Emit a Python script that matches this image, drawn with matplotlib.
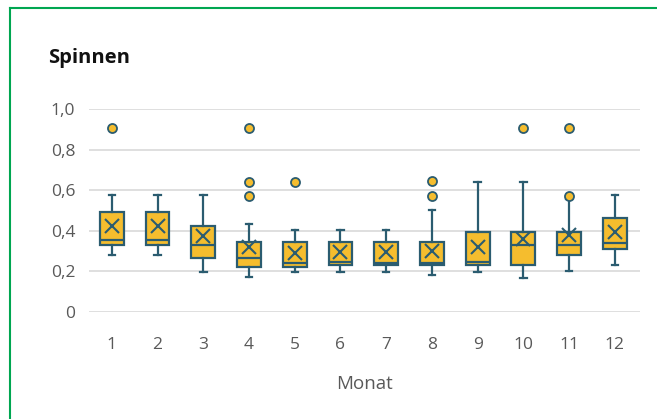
import matplotlib
matplotlib.use('Agg')
import matplotlib.pyplot as plt
from matplotlib.lines import Line2D

# Daten
monate = [1, 2, 3, 4, 5, 6, 7, 8, 9, 10, 11, 12]
whis_unten = [0.282, 0.282, 0.197, 0.171, 0.197, 0.197, 0.197, 0.184, 0.197, 0.167, 0.200, 0.231]
q1 = [0.330, 0.330, 0.264, 0.221, 0.221, 0.231, 0.231, 0.231, 0.231, 0.231, 0.280, 0.312]
median = [0.354, 0.354, 0.330, 0.264, 0.243, 0.246, 0.240, 0.243, 0.246, 0.330, 0.330, 0.338]
q3 = [0.492, 0.492, 0.426, 0.346, 0.346, 0.346, 0.346, 0.346, 0.395, 0.395, 0.395, 0.461]
whis_oben = [0.574, 0.574, 0.574, 0.435, 0.405, 0.405, 0.405, 0.500, 0.640, 0.640, 0.555, 0.574]
mittel = [0.423, 0.423, 0.374, 0.320, 0.292, 0.296, 0.296, 0.300, 0.320, 0.358, 0.379, 0.395]
ausreisser = [[0.904], [], [], [0.904, 0.640, 0.572], [0.640], [], [], [0.643, 0.572], [], [0.904], [0.904, 0.572], []]

GELB = '#F5BD2E'
DUNKEL = '#2B5C70'
GRUEN = '#00A651'
GRAU = '#595959'

plt.rcParams['font.family'] = ['Open Sans', 'DejaVu Sans']

fig = plt.figure(figsize=(6.57, 4.19), dpi=100)
ax = fig.add_axes([0.1355, 0.2554, 0.974 - 0.1355, 0.7399 - 0.2554])

stats = []
for i in range(len(monate)):
    stats.append({'whislo': whis_unten[i], 'q1': q1[i], 'med': median[i], 'q3': q3[i],
                  'whishi': whis_oben[i], 'mean': mittel[i], 'fliers': ausreisser[i]})

ax.bxp(stats, positions=monate, widths=0.52, capwidths=0.14, showmeans=True, patch_artist=True,
       boxprops=dict(facecolor=GELB, edgecolor=DUNKEL, linewidth=1.6),
       medianprops=dict(color=DUNKEL, linewidth=1.6),
       whiskerprops=dict(color=DUNKEL, linewidth=1.6),
       capprops=dict(color=DUNKEL, linewidth=1.6),
       meanprops=dict(marker='x', markeredgecolor=DUNKEL, markersize=10, markeredgewidth=1.5),
       flierprops=dict(marker='o', markerfacecolor=GELB, markeredgecolor=DUNKEL, markersize=6.5,
                       markeredgewidth=1.3),
       zorder=3)

ax.set_xlim(0.5, 12.55)
ax.set_ylim(0, 1.0)
ax.set_yticks([0, 0.2, 0.4, 0.6, 0.8, 1.0])
ax.set_yticklabels(['0', '0,2', '0,4', '0,6', '0,8', '1,0'])
ax.set_xticks(monate)
ax.set_xticklabels([str(m) for m in monate])
ax.tick_params(length=0, colors=GRAU, labelsize=12.5)
ax.tick_params(axis='x', pad=18)
ax.tick_params(axis='y', pad=10)
ax.grid(axis='y', color='#D9D9D9', linewidth=1.2, zorder=0)
ax.set_axisbelow(True)
for s in ax.spines.values():
    s.set_visible(False)
ax.set_xlabel('Monat', color=GRAU, fontsize=13.5, labelpad=16)

fig.text(48 / 657, 1 - 58 / 419, 'Spinnen', fontsize=14.5, fontweight='bold', color='#111111',
         va='center', ha='left')

# gruener Rahmen oben und links
fig.add_artist(Line2D([10 / 657, 1], [1 - 8 / 419, 1 - 8 / 419], color=GRUEN, linewidth=1.5,
                      transform=fig.transFigure))
fig.add_artist(Line2D([10 / 657, 10 / 657], [0, 1 - 8 / 419], color=GRUEN, linewidth=1.5,
                      transform=fig.transFigure))

fig.savefig('out.png', dpi=100)
